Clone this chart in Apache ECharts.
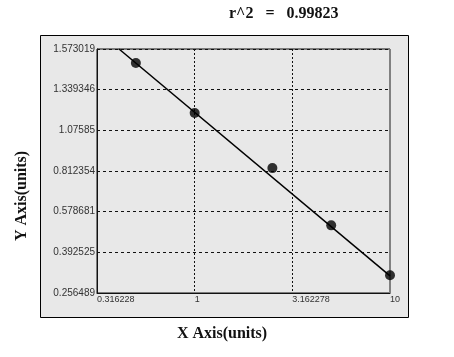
<!DOCTYPE html>
<html><head><meta charset="utf-8">
<script src="https://cdn.jsdelivr.net/npm/echarts@6/dist/echarts.min.js"></script>
<style>html,body{margin:0;padding:0;background:#fff}#c{width:454px;height:357px}</style>
</head><body><div id="c"></div>
<script>
// X values (log axis), Y values in data units
const xValues = [0.5, 1, 2.5, 5, 10];
const yValues = [1.493, 1.188, 0.831, 0.516, 0.316];
// fitted curve endpoints
const fitX = [0.41, 10];
const fitY = [1.573019, 0.314];
// y tick labels (equally spaced on the original axis)
const yTickLabels = ['0.256489', '0.392525', '0.578681', '0.812354', '1.07585', '1.339346', '1.573019'];
const xTickLabels = ['0.316228', '1', '3.162278', '10'];
const titleText = 'r^2   =   0.99823';
const xName = 'X Axis(units)';
const yName = 'Y Axis(units)';

const yTickVals = yTickLabels.map(Number);
// map a y value onto the axis' equally spaced tick positions (piecewise linear)
function yPos(v) {
  for (let i = 0; i < yTickVals.length - 1; i++) {
    const a = yTickVals[i], b = yTickVals[i + 1];
    if (v <= b || i === yTickVals.length - 2) return i + (v - a) / (b - a);
  }
}
const points = xValues.map((x, i) => [x, yPos(yValues[i])]);
const fitLine = fitX.map((x, i) => [x, yPos(fitY[i])]);

const chart = echarts.init(document.getElementById('c'), null, {renderer: 'canvas'});
const lblFont = 'Liberation Sans';
const nameFont = 'bold 16px "Liberation Serif"';
chart.setOption({
  animation: false,
  graphic: [
    {type: 'rect', z: -10, shape: {x: 40.5, y: 35.5, width: 368, height: 282},
     style: {fill: '#e8e8e8', stroke: '#000', lineWidth: 1}},
    {type: 'line', z: 1, shape: {x1: 390, y1: 49, x2: 390, y2: 293},
     style: {stroke: '#808080', lineWidth: 2}},
    {type: 'text', left: 229, top: 6, z: 10,
     style: {text: titleText, font: 'bold 16px "Liberation Serif"', fill: '#111'}},
    {type: 'text', x: 222, y: 334, z: 10,
     style: {text: xName, font: nameFont, fill: '#111', align: 'center', verticalAlign: 'middle'}},
    {type: 'text', x: 22, y: 196, rotation: Math.PI / 2, z: 10,
     style: {text: yName, font: nameFont, fill: '#111', align: 'center', verticalAlign: 'middle'}}
  ],
  grid: {left: 97, top: 49, width: 293, height: 244, show: true, backgroundColor: 'transparent', borderColor: '#111', borderWidth: 1},
  xAxis: {
    type: 'log', logBase: 10, min: Math.pow(10, -0.5), max: 10, interval: 0.5,
    axisLine: {show: true, lineStyle: {color: '#111', width: 1}},
    axisTick: {show: false},
    axisLabel: {
      fontFamily: lblFont, fontSize: 9, color: '#333', align: 'left', margin: 2,
      formatter: function (v) {
        const idx = Math.round((Math.log10(v) + 0.5) / 0.5);
        return xTickLabels[idx] !== undefined ? xTickLabels[idx] : '';
      }
    },
    splitLine: {show: true, lineStyle: {color: '#111', type: [2, 2], width: 1}}
  },
  yAxis: {
    type: 'value', min: 0, max: 6, interval: 1,
    axisLine: {show: true, lineStyle: {color: '#111', width: 1}},
    axisTick: {show: false},
    axisLabel: {
      fontFamily: lblFont, fontSize: 10, color: '#333', margin: 2,
      formatter: function (v) { return yTickLabels[Math.round(v)]; }
    },
    splitLine: {show: true, lineStyle: {color: '#111', type: [3, 3], width: 1}}
  },
  series: [
    {type: 'line', data: fitLine, showSymbol: false, symbol: 'none',
     lineStyle: {color: '#000', width: 1.5}, z: 3},
    {type: 'scatter', data: points, symbol: 'circle', symbolSize: 10,
     itemStyle: {color: '#000'}, z: 4}
  ]
});
</script>
</body></html>
